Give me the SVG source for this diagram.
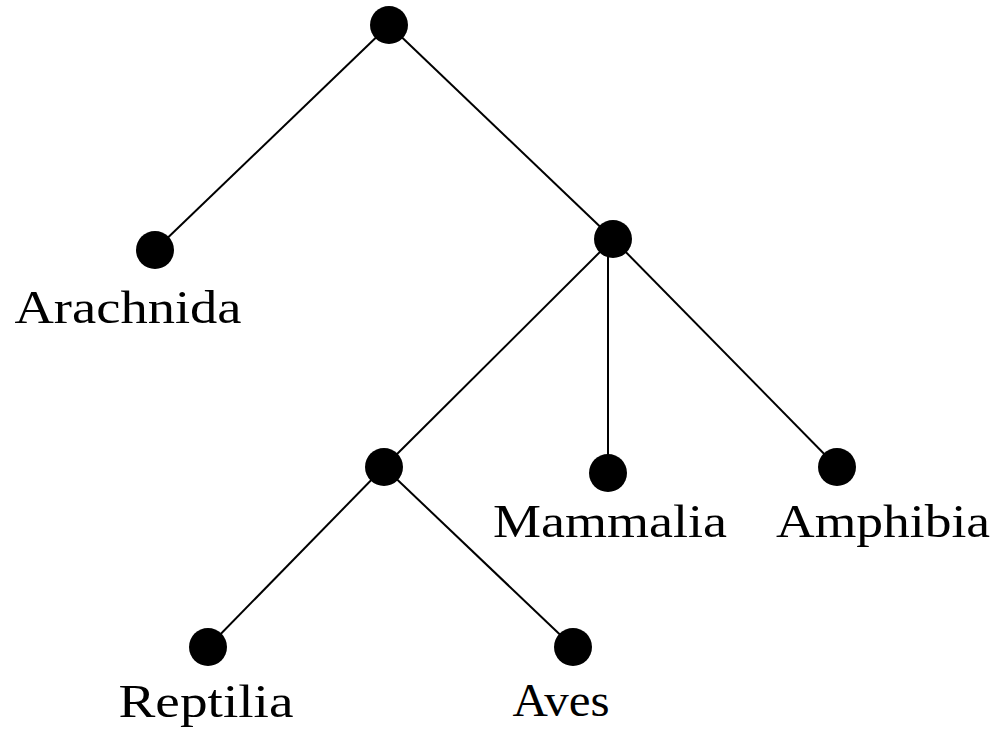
<svg xmlns="http://www.w3.org/2000/svg" width="1001" height="734" viewBox="0 0 1001 734">
<style>
.edge{stroke:#000;stroke-width:2;fill:none}
.node{fill:#000}
.lbl{font-family:"Liberation Serif","DejaVu Serif",serif;font-size:47px;fill:#000;text-anchor:middle}
</style>
<rect width="1001" height="734" fill="#fff"/>
<g id="edges">
<line class="edge" x1="389" y1="25" x2="155" y2="250"/>
<line class="edge" x1="389" y1="25" x2="613" y2="239"/>
<line class="edge" x1="613" y1="239" x2="384" y2="467"/>
<line class="edge" x1="608" y1="239" x2="608" y2="473"/>
<line class="edge" x1="613" y1="239" x2="837" y2="467"/>
<line class="edge" x1="384" y1="467" x2="208" y2="647"/>
<line class="edge" x1="384" y1="467" x2="573" y2="647"/>
</g>
<g id="root"><circle class="node" cx="389" cy="25" r="19"/></g>
<g id="arachnida"><circle class="node" cx="155" cy="250" r="19"/><text class="lbl" x="128" y="323" textLength="227" lengthAdjust="spacingAndGlyphs">Arachnida</text></g>
<g id="inner1"><circle class="node" cx="613" cy="239" r="19"/></g>
<g id="inner2"><circle class="node" cx="384" cy="467" r="19"/></g>
<g id="mammalia"><circle class="node" cx="608" cy="473" r="19"/><text class="lbl" x="610" y="537" textLength="234" lengthAdjust="spacingAndGlyphs">Mammalia</text></g>
<g id="amphibia"><circle class="node" cx="837" cy="467" r="19"/><text class="lbl" x="883" y="537" textLength="214" lengthAdjust="spacingAndGlyphs">Amphibia</text></g>
<g id="reptilia"><circle class="node" cx="208" cy="647" r="19"/><text class="lbl" x="206" y="717" textLength="175" lengthAdjust="spacingAndGlyphs">Reptilia</text></g>
<g id="aves"><circle class="node" cx="573" cy="647" r="19"/><text class="lbl" x="561" y="716" textLength="97" lengthAdjust="spacingAndGlyphs">Aves</text></g>
</svg>
